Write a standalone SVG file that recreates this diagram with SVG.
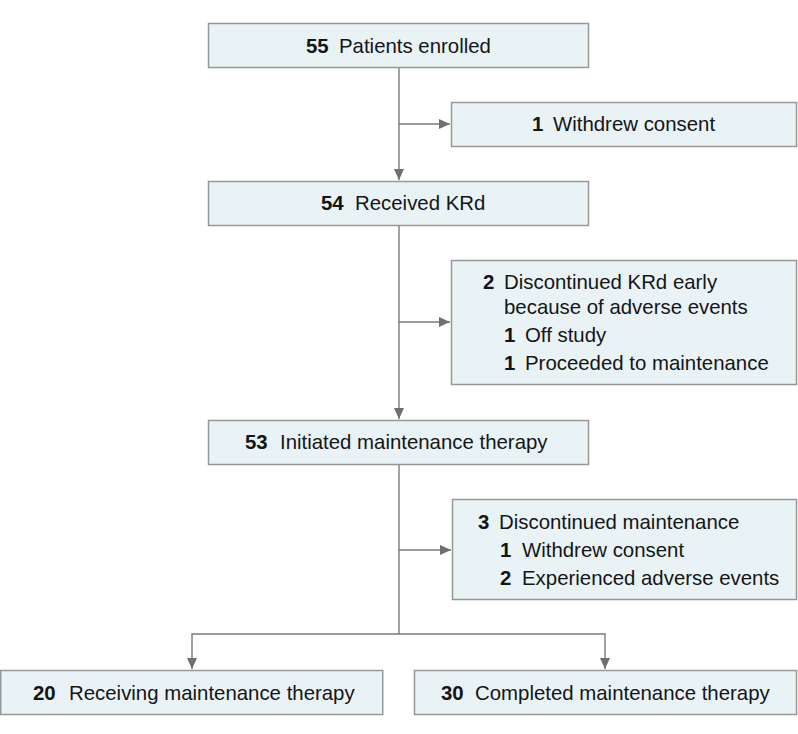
<svg xmlns="http://www.w3.org/2000/svg" width="798" height="734" viewBox="0 0 798 734">
<style>
.box{fill:#e9f3f5;stroke:#979797;stroke-width:1.5}
.t{font-family:"Liberation Sans",Arial,sans-serif;font-size:20.4px;fill:#151515}
.n{font-weight:bold}
.ln{fill:none;stroke:#7a7a7a;stroke-width:1.4}
</style>
<defs>
<marker id="ah" markerUnits="userSpaceOnUse" markerWidth="12" markerHeight="10" refX="11" refY="5" orient="auto">
<path d="M0,0 L11,5 L0,10 z" fill="#6f6f6f"/>
</marker>
</defs>
<g id="connectors">
<path class="ln" d="M399,67 V180" marker-end="url(#ah)"/>
<path class="ln" d="M399,124 H450" marker-end="url(#ah)"/>
<path class="ln" d="M399,225 V419" marker-end="url(#ah)"/>
<path class="ln" d="M399,322 H450" marker-end="url(#ah)"/>
<path class="ln" d="M399,464 V634"/>
<path class="ln" d="M399,550 H451" marker-end="url(#ah)"/>
<path class="ln" d="M399,634 H192 V669" marker-end="url(#ah)"/>
<path class="ln" d="M399,634 H605 V669" marker-end="url(#ah)"/>
</g>
<g id="enrolled">
<rect class="box" x="208.5" y="23.5" width="380" height="44"/>
<text class="t" y="53"><tspan class="n" x="306">55</tspan><tspan x="339">Patients enrolled</tspan></text>
</g>
<g id="withdrew">
<rect class="box" x="451.5" y="102.5" width="345" height="44"/>
<text class="t" y="131"><tspan class="n" x="532">1</tspan><tspan x="553">Withdrew consent</tspan></text>
</g>
<g id="received">
<rect class="box" x="208.5" y="181.5" width="380" height="44"/>
<text class="t" y="210"><tspan class="n" x="321">54</tspan><tspan x="355">Received KRd</tspan></text>
</g>
<g id="discontinued-krd">
<rect class="box" x="451.5" y="260.5" width="345" height="124"/>
<text class="t" y="289"><tspan class="n" x="483">2</tspan><tspan x="504">Discontinued KRd early</tspan></text>
<text class="t" x="504" y="314">because of adverse events</text>
<text class="t" y="342"><tspan class="n" x="504">1</tspan><tspan x="525">Off study</tspan></text>
<text class="t" y="370"><tspan class="n" x="504">1</tspan><tspan x="525">Proceeded to maintenance</tspan></text>
</g>
<g id="initiated">
<rect class="box" x="208.5" y="420.5" width="380" height="44"/>
<text class="t" y="449"><tspan class="n" x="245">53</tspan><tspan x="280">Initiated maintenance therapy</tspan></text>
</g>
<g id="discontinued-maint">
<rect class="box" x="452.5" y="499.5" width="344" height="100"/>
<text class="t" y="529"><tspan class="n" x="478">3</tspan><tspan x="499">Discontinued maintenance</tspan></text>
<text class="t" y="557"><tspan class="n" x="500">1</tspan><tspan x="522">Withdrew consent</tspan></text>
<text class="t" y="585"><tspan class="n" x="500">2</tspan><tspan x="522">Experienced adverse events</tspan></text>
</g>
<g id="receiving">
<rect class="box" x="0.75" y="670.5" width="382" height="44"/>
<text class="t" y="700"><tspan class="n" x="33">20</tspan><tspan x="69">Receiving maintenance therapy</tspan></text>
</g>
<g id="completed">
<rect class="box" x="414.5" y="670.5" width="382" height="44"/>
<text class="t" y="700"><tspan class="n" x="441">30</tspan><tspan x="475">Completed maintenance therapy</tspan></text>
</g>
</svg>
